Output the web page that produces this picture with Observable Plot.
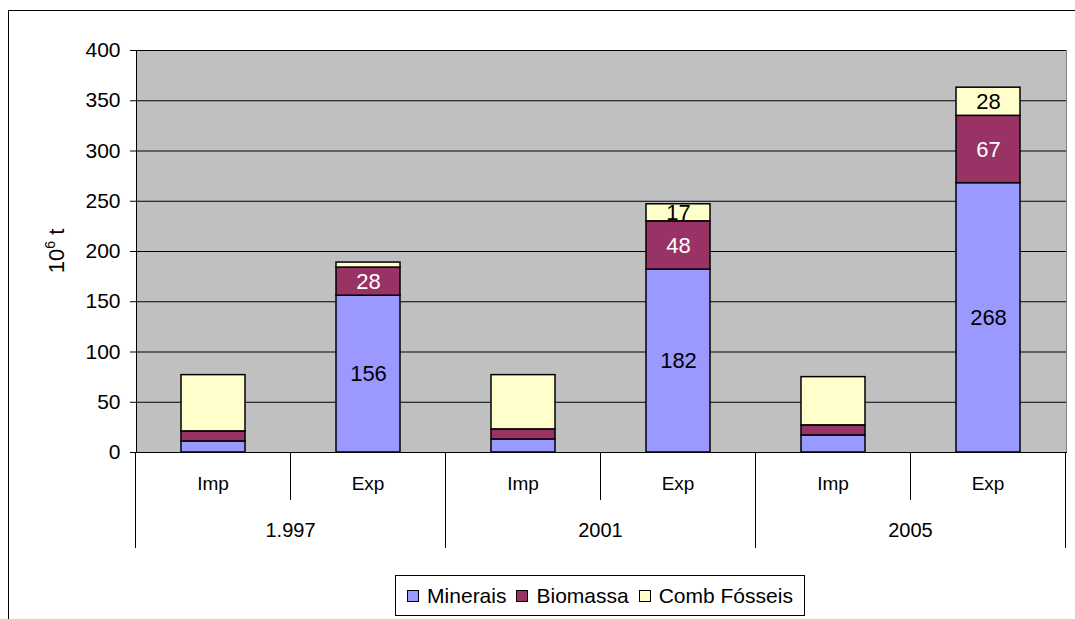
<!DOCTYPE html>
<html><head><meta charset="utf-8">
<script src="https://cdn.jsdelivr.net/npm/d3@7"></script>
<script src="https://cdn.jsdelivr.net/npm/@observablehq/plot@0.6"></script>
<style>
body{margin:0;background:#fff;font-family:"Liberation Sans",Arial,sans-serif;}
#wrap{position:relative;width:1075px;height:619px;overflow:hidden;}
#outer{position:absolute;left:8px;top:10px;width:1100px;height:700px;border:1px solid #000;box-sizing:border-box;pointer-events:none}
#chart{position:absolute;left:0;top:0}
#legend{position:absolute;left:395px;top:575px;width:410px;height:41px;border:1px solid #000;box-sizing:border-box;display:flex;align-items:center;justify-content:center;font-size:21px;background:#fff;color:#000}
#legend .item{display:flex;align-items:center;margin:0 5px}
#legend .sw{width:10px;height:10px;border:1px solid #000;margin-right:8px}
</style></head>
<body><div id="wrap"><div id="outer"></div><div id="chart"></div><div id="legend"></div></div>
<script>
const years = ["1.997", "2001", "2005"];
const flows = ["Imp", "Exp"];
const series = ["Minerais", "Biomassa", "Comb Fósseis"];
const minerais    = [11, 156, 13, 182, 17, 268];
const biomassa    = [10,  28, 10,  48, 10,  67];
const combFosseis = [56,   5, 54,  17, 48,  28];
const seriesColors = ["#9999FF", "#993366", "#FFFFCC"];
const yTicks = [0, 50, 100, 150, 200, 250, 300, 350, 400];
const yTitle = ["10", "6", " t"]; // 10^6 t
const labelled = ["Exp"]; // data labels only on the export bars
const minLabel = 15;

const keys = [];
years.forEach(y => flows.forEach(f => keys.push(y + " " + f)));
const valuesBySeries = [minerais, biomassa, combFosseis];
const rows = [];
keys.forEach((k, i) => series.forEach((s, j) => rows.push({
  key: k, year: years[Math.floor(i / 2)], flow: flows[i % 2], series: s, value: valuesBySeries[j][i]
})));
const showLabel = d => labelled.includes(d.flow) && d.value >= minLabel;

function categoryAxis(index, scales, values, dimensions) {
  const x = scales.x;
  const bw = x.bandwidth();
  const step = x.step();
  const y0 = dimensions.height - dimensions.marginBottom;
  const g = d3.create("svg:g").attr("text-anchor", "middle").attr("fill", "#000");
  keys.forEach((k, i) => {
    const c = x(k) + bw / 2, left = c - step / 2;
    g.append("line").attr("x1", left).attr("x2", left).attr("y1", y0)
      .attr("y2", y0 + (i % 2 ? 48 : 96)).attr("stroke", "#000");
    g.append("text").attr("x", c).attr("y", y0 + 38).attr("font-size", 19).text(flows[i % 2]);
  });
  const lastC = x(keys[keys.length - 1]) + bw / 2 + step / 2;
  g.append("line").attr("x1", lastC).attr("x2", lastC).attr("y1", y0).attr("y2", y0 + 96).attr("stroke", "#000");
  years.forEach((yr) => {
    const c = x(yr + " Exp") + bw / 2 - step / 2;
    g.append("text").attr("x", c).attr("y", y0 + 85).attr("font-size", 20).text(yr);
  });
  return g.node();
}

function yLabel(index, scales, values, dimensions) {
  const y = scales.y;
  const cy = (y(0) + y(400)) / 2;
  const t = d3.create("svg:text").attr("text-anchor", "middle").attr("fill", "#000").attr("font-size", 22)
    .attr("transform", `translate(${dimensions.marginLeft - 72},${cy}) rotate(-90)`);
  t.append("tspan").text(yTitle[0]);
  t.append("tspan").attr("font-size", 14).attr("dy", -9).text(yTitle[1]);
  t.append("tspan").attr("dy", 9).text(yTitle[2]);
  return t.node();
}

const chart = Plot.plot({
  width: 1075, height: 565,
  marginLeft: 136, marginRight: 9, marginTop: 50, marginBottom: 113,
  style: {fontFamily: "'Liberation Sans', Arial, sans-serif", fontSize: "21px", color: "#000", background: "transparent", overflow: "visible"},
  x: {domain: keys, paddingInner: 0.585, paddingOuter: 0.2925, axis: null},
  y: {domain: [0, 400]},
  color: {domain: series, range: seriesColors},
  marks: [
    Plot.frame({fill: "#C0C0C0", stroke: "#808080"}),
    Plot.gridY(yTicks, {stroke: "#000", strokeOpacity: 1, strokeWidth: 1}),
    Plot.axisY(yTicks, {tickSize: 6, tickPadding: 10, fontSize: 21, label: null}),
    Plot.barY(rows, Plot.stackY({x: "key", y: "value", fill: "series", stroke: "#000", strokeWidth: 1.5})),
    Plot.text(rows, Plot.stackY({x: "key", y: "value", text: d => (showLabel(d) && d.series !== "Biomassa") ? String(d.value) : "", fill: "#000", fontSize: 22})),
    Plot.text(rows, Plot.stackY({x: "key", y: "value", text: d => (showLabel(d) && d.series === "Biomassa") ? String(d.value) : "", fill: "#fff", fontSize: 22})),
    Plot.frame({anchor: "left", stroke: "#000"}),
    Plot.frame({anchor: "bottom", stroke: "#000"}),
    categoryAxis,
    yLabel
  ]
});
document.getElementById("chart").appendChild(chart);

const legend = d3.select("#legend");
series.forEach((s, i) => {
  const it = legend.append("div").attr("class", "item");
  it.append("div").attr("class", "sw").style("background", seriesColors[i]);
  it.append("span").text(s);
});
</script></body></html>
